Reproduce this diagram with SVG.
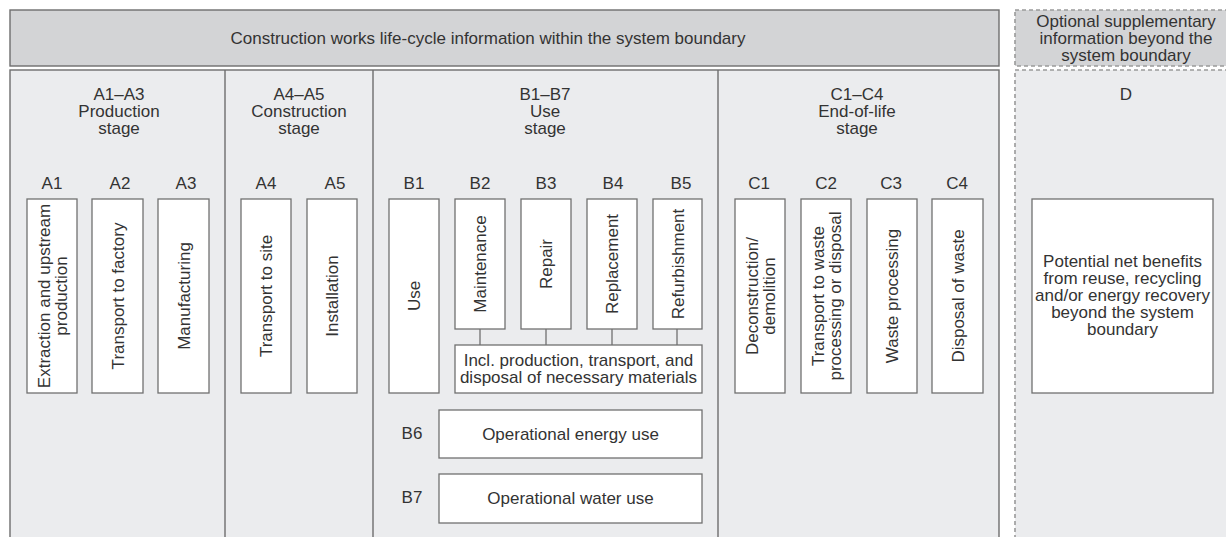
<svg xmlns="http://www.w3.org/2000/svg" width="1226" height="537" viewBox="0 0 1226 537">
<style>
text{font-family:"Liberation Sans",Arial,sans-serif;font-size:17px;fill:#333;text-anchor:middle}
.banner{fill:#d3d4d6;stroke:#6e6e6e;stroke-width:1.4}
.panel{fill:#ebecee;stroke:#6e6e6e;stroke-width:1.4}
.div{stroke:#6e6e6e;stroke-width:1.4;fill:none}
.dbanner{fill:#d3d4d6;stroke:#9a9a9a;stroke-width:1.6;stroke-dasharray:4 3}
.dpanel{fill:#ebecee;stroke:#9a9a9a;stroke-width:1.6;stroke-dasharray:4 3}
.box{fill:#fff;stroke:#707070;stroke-width:1.3}
.conn{stroke:#707070;stroke-width:1.3}
</style>
<rect width="1226" height="537" fill="#fff"/>
<g id="header">
<rect class="banner" x="10" y="10" width="989" height="56"/>
<text x="488" y="44">Construction works life-cycle information within the system boundary</text>
</g>
<g id="optional-header">
<rect class="dbanner" x="1015" y="10" width="220" height="56"/>
<text x="1126" y="27">Optional supplementary</text>
<text x="1126" y="44">information beyond the</text>
<text x="1126" y="61">system boundary</text>
</g>
<g id="panel">
<rect class="panel" x="10" y="70" width="989" height="480"/>
<line class="div" x1="225" y1="70" x2="225" y2="540"/>
<line class="div" x1="373" y1="70" x2="373" y2="540"/>
<line class="div" x1="718" y1="70" x2="718" y2="540"/>
</g>
<g id="d-panel">
<rect class="dpanel" x="1015" y="70" width="220" height="480"/>
</g>
<g id="stage-labels">
<text x="119" y="100">A1–A3</text><text x="119" y="117">Production</text><text x="119" y="134">stage</text>
<text x="299" y="100">A4–A5</text><text x="299" y="117">Construction</text><text x="299" y="134">stage</text>
<text x="545" y="100">B1–B7</text><text x="545" y="117">Use</text><text x="545" y="134">stage</text>
<text x="857" y="100">C1–C4</text><text x="857" y="117">End-of-life</text><text x="857" y="134">stage</text>
<text x="1126" y="100">D</text>
</g>
<g id="module-labels">
<text x="52" y="189">A1</text><text x="120" y="189">A2</text><text x="186" y="189">A3</text>
<text x="266" y="189">A4</text><text x="335" y="189">A5</text>
<text x="414" y="189">B1</text><text x="480" y="189">B2</text><text x="546" y="189">B3</text><text x="613" y="189">B4</text><text x="681" y="189">B5</text>
<text x="759" y="189">C1</text><text x="826" y="189">C2</text><text x="891" y="189">C3</text><text x="957" y="189">C4</text>
<text x="412" y="439">B6</text><text x="412" y="503">B7</text>
</g>
<g id="connectors">
<line class="conn" x1="480" y1="329" x2="480" y2="345"/>
<line class="conn" x1="546" y1="329" x2="546" y2="345"/>
<line class="conn" x1="612" y1="329" x2="612" y2="345"/>
<line class="conn" x1="677" y1="329" x2="677" y2="345"/>
</g>
<g id="A1"><rect class="box" x="27" y="199" width="50" height="194"/>
<text transform="translate(52,296) rotate(-90)"><tspan x="0" y="-2.5">Extraction and upstream</tspan><tspan x="0" y="14.5">production</tspan></text></g>
<g id="A2"><rect class="box" x="92" y="199" width="51" height="194"/>
<text transform="translate(117.5,296) rotate(-90)" y="6">Transport to factory</text></g>
<g id="A3"><rect class="box" x="158" y="199" width="51" height="194"/>
<text transform="translate(183.5,296) rotate(-90)" y="6">Manufacturing</text></g>
<g id="A4"><rect class="box" x="241" y="199" width="50" height="194"/>
<text transform="translate(266,296) rotate(-90)" y="6">Transport to site</text></g>
<g id="A5"><rect class="box" x="307" y="199" width="50" height="194"/>
<text transform="translate(332,296) rotate(-90)" y="6">Installation</text></g>
<g id="B1"><rect class="box" x="389" y="199" width="50" height="194"/>
<text transform="translate(414,296) rotate(-90)" y="6">Use</text></g>
<g id="B2"><rect class="box" x="455" y="199" width="50" height="130"/>
<text transform="translate(480,264) rotate(-90)" y="6">Maintenance</text></g>
<g id="B3"><rect class="box" x="521" y="199" width="50" height="130"/>
<text transform="translate(546,264) rotate(-90)" y="6">Repair</text></g>
<g id="B4"><rect class="box" x="587" y="199" width="50" height="130"/>
<text transform="translate(612,264) rotate(-90)" y="6">Replacement</text></g>
<g id="B5"><rect class="box" x="653" y="199" width="49" height="130"/>
<text transform="translate(677.5,264) rotate(-90)" y="6">Refurbishment</text></g>
<g id="B2-B5-note"><rect class="box" x="455" y="345" width="247" height="48"/>
<text x="578.5" y="366">Incl. production, transport, and</text>
<text x="578.5" y="383">disposal of necessary materials</text></g>
<g id="B6"><rect class="box" x="439" y="410" width="263" height="48"/>
<text x="570.5" y="440">Operational energy use</text></g>
<g id="B7"><rect class="box" x="439" y="474" width="263" height="49"/>
<text x="570.5" y="504">Operational water use</text></g>
<g id="C1"><rect class="box" x="735" y="199" width="50" height="194"/>
<text transform="translate(760,296) rotate(-90)"><tspan x="0" y="-2.5">Deconstruction/</tspan><tspan x="0" y="14.5">demolition</tspan></text></g>
<g id="C2"><rect class="box" x="801" y="199" width="50" height="194"/>
<text transform="translate(826,296) rotate(-90)"><tspan x="0" y="-2.5">Transport to waste</tspan><tspan x="0" y="14.5">processing or disposal</tspan></text></g>
<g id="C3"><rect class="box" x="867" y="199" width="50" height="194"/>
<text transform="translate(892,296) rotate(-90)" y="6">Waste processing</text></g>
<g id="C4"><rect class="box" x="932" y="199" width="51" height="194"/>
<text transform="translate(957.5,296) rotate(-90)" y="6">Disposal of waste</text></g>
<g id="D"><rect class="box" x="1032" y="199" width="181" height="194"/>
<text x="1122.5" y="267">Potential net benefits</text>
<text x="1122.5" y="284">from reuse, recycling</text>
<text x="1122.5" y="301">and/or energy recovery</text>
<text x="1122.5" y="318">beyond the system</text>
<text x="1122.5" y="335">boundary</text></g>
</svg>
